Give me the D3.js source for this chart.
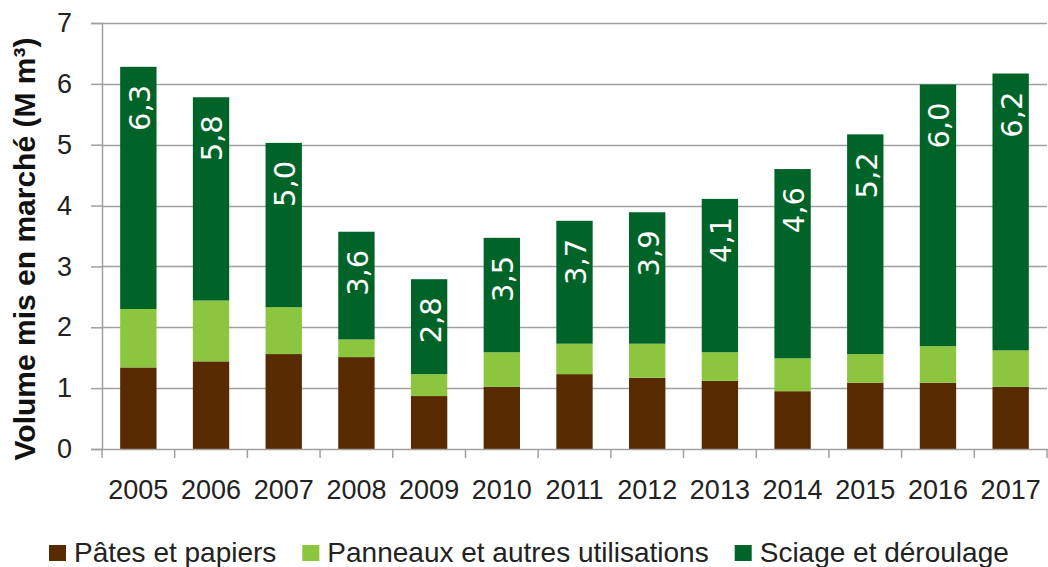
<!DOCTYPE html>
<html>
<head>
<meta charset="utf-8">
<script src="https://cdn.jsdelivr.net/npm/d3@7"></script>
<style>
  body { margin: 0; background: #fff; }
  svg { display: block; }
</style>
</head>
<body>
<div id="chart"></div>
<script>
var years = ["2005", "2006", "2007", "2008", "2009", "2010", "2011", "2012", "2013", "2014", "2015", "2016", "2017"];
var pates = [1.34, 1.44, 1.56, 1.51, 0.87, 1.02, 1.23, 1.17, 1.12, 0.95, 1.09, 1.09, 1.02];
var panneaux = [0.96, 1.00, 0.77, 0.29, 0.36, 0.57, 0.50, 0.56, 0.47, 0.54, 0.47, 0.60, 0.60];
var sciage = [3.98, 3.34, 2.70, 1.77, 1.56, 1.88, 2.02, 2.16, 2.52, 3.11, 3.61, 4.30, 4.55];
var totalLabels = ["6,3", "5,8", "5,0", "3,6", "2,8", "3,5", "3,7", "3,9", "4,1", "4,6", "5,2", "6,0", "6,2"];
var seriesNames = ["Pâtes et papiers", "Panneaux et autres utilisations", "Sciage et déroulage"];
var seriesColors = ["#572a00", "#8cc63e", "#006428"];
var yTicks = [0, 1, 2, 3, 4, 5, 6, 7];

var width = 1048, height = 567;
var margin = {top: 23, right: 1, bottom: 118, left: 102};
var plotW = width - margin.left - margin.right;
var plotH = height - margin.top - margin.bottom;

var svg = d3.select("#chart").append("svg")
    .attr("width", width)
    .attr("height", height);

var g = svg.append("g")
    .attr("transform", "translate(" + margin.left + "," + margin.top + ")");

var x = d3.scaleBand()
    .domain(years)
    .range([0, plotW])
    .paddingInner(0.5)
    .paddingOuter(0.25);

var y = d3.scaleLinear()
    .domain([0, 7])
    .range([plotH, 0]);

// rows for the stack
var rows = years.map(function(yr, i) {
    return {year: yr, p0: pates[i], p1: panneaux[i], p2: sciage[i], label: totalLabels[i]};
});
var stack = d3.stack().keys(["p0", "p1", "p2"]);
var layers = stack(rows);

// gridlines
g.append("g")
    .selectAll("line")
    .data(yTicks.filter(function(d) { return d > 0; }))
    .enter().append("line")
    .attr("x1", 0)
    .attr("x2", plotW)
    .attr("y1", function(d) { return Math.round(y(d)) + 0.5; })
    .attr("y2", function(d) { return Math.round(y(d)) + 0.5; })
    .attr("stroke", "#a0a0a0")
    .attr("stroke-width", 1.5);

// y axis
var yAxis = g.append("g")
    .call(d3.axisLeft(y).tickValues(yTicks).tickFormat(d3.format("d")).tickSize(11).tickPadding(19));
yAxis.selectAll("path").attr("stroke", "#a0a0a0").attr("stroke-width", 1.5);
yAxis.selectAll("line").attr("stroke", "#a0a0a0").attr("stroke-width", 1.5);
yAxis.selectAll("text")
    .attr("font-family", "Liberation Sans, Arial, sans-serif")
    .attr("font-size", 27)
    .attr("fill", "#222");

// bars
g.append("g")
    .selectAll("g")
    .data(layers)
    .enter().append("g")
    .attr("fill", function(d, i) { return seriesColors[i]; })
    .selectAll("rect")
    .data(function(d) { return d; })
    .enter().append("rect")
    .attr("x", function(d) { return x(d.data.year); })
    .attr("width", x.bandwidth())
    .attr("y", function(d) { return y(d[1]); })
    .attr("height", function(d) { return y(d[0]) - y(d[1]); });

// x axis
var xAxis = g.append("g")
    .attr("transform", "translate(0," + plotH + ")")
    .call(d3.axisBottom(x).tickSize(0).tickPadding(31));
xAxis.select(".domain").attr("stroke", "#a0a0a0").attr("stroke-width", 1.5);
xAxis.selectAll("text")
    .attr("font-family", "Liberation Sans, Arial, sans-serif")
    .attr("font-size", 27)
    .attr("fill", "#222");

// tick marks between categories
var step = x.step();
g.append("g")
    .selectAll("line")
    .data(d3.range(years.length + 1))
    .enter().append("line")
    .attr("x1", function(i) { return i * step; })
    .attr("x2", function(i) { return i * step; })
    .attr("y1", plotH)
    .attr("y2", plotH + 9)
    .attr("stroke", "#a0a0a0")
    .attr("stroke-width", 1.5);

// total labels, rotated, inside the top of each bar
g.append("g")
    .selectAll("text")
    .data(layers[2])
    .enter().append("text")
    .attr("transform", function(d) {
        return "translate(" + (x(d.data.year) + x.bandwidth() / 2 + 1) + "," + (y(d[1]) + 18) + ") rotate(-90)";
    })
    .attr("dy", "0.36em")
    .attr("text-anchor", "end")
    .attr("font-family", "DejaVu Sans, Verdana, sans-serif")
    .attr("font-size", 29)
    .attr("fill", "#fff")
    .text(function(d) { return d.data.label; });

// y title
svg.append("text")
    .attr("transform", "translate(24,249) rotate(-90)")
    .attr("dy", "0.35em")
    .attr("text-anchor", "middle")
    .attr("font-family", "Liberation Sans, Arial, sans-serif")
    .attr("font-weight", "bold")
    .attr("font-size", 30)
    .attr("fill", "#111")
    .text("Volume mis en marché (M m³)");

// legend
var legend = svg.append("g").attr("transform", "translate(49,552)");
var lx = 0;
seriesNames.forEach(function(name, i) {
    var item = legend.append("g").attr("transform", "translate(" + lx + ",0)");
    item.append("rect")
        .attr("x", 0)
        .attr("y", -7)
        .attr("width", 17)
        .attr("height", 16)
        .attr("fill", seriesColors[i]);
    var t = item.append("text")
        .attr("x", 25)
        .attr("dy", "0.35em")
        .attr("font-family", "Liberation Sans, Arial, sans-serif")
        .attr("font-size", 28)
        .attr("fill", "#222")
        .text(name);
    lx += 25 + t.node().getComputedTextLength() + 26;
});
</script>
</body>
</html>
